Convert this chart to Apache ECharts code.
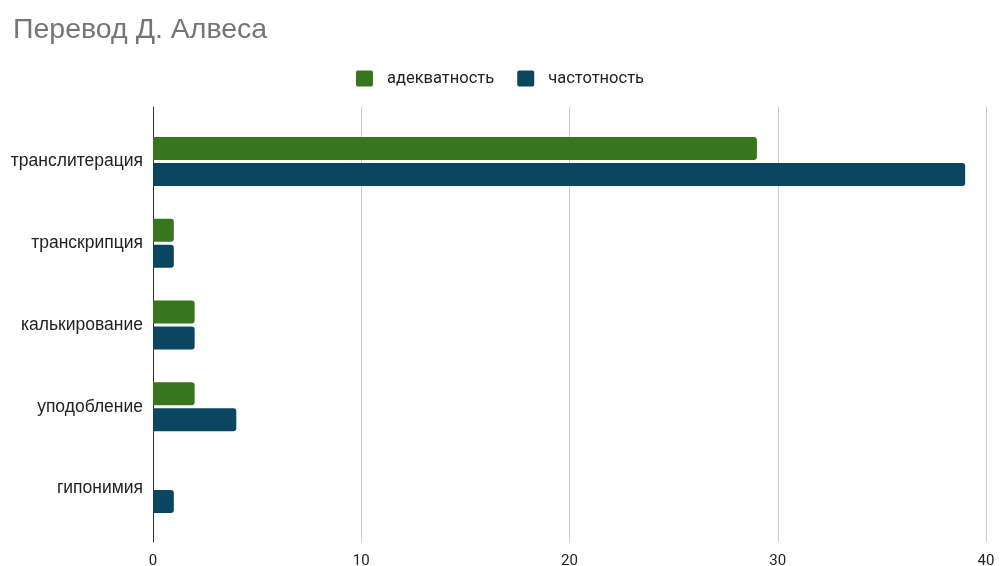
<!DOCTYPE html>
<html>
<head>
<meta charset="utf-8">
<script src="https://cdn.jsdelivr.net/npm/echarts@6/dist/echarts.min.js"></script>
<style>
  html, body { margin: 0; padding: 0; background: #fff; }
  #chart { width: 1000px; height: 566px; }
</style>
</head>
<body>
<div id="chart"></div>
<script>
// Translation methods and their counts
const categories = ['транслитерация', 'транскрипция', 'калькирование', 'уподобление', 'гипонимия'];
const adequacy = [29, 1, 2, 2, 0];
const frequency = [39, 1, 2, 4, 1];
const seriesNames = ['адекватность', 'частотность'];
const xTicks = { min: 0, max: 40, interval: 10 };

const FONT = '"Liberation Sans", Arial, sans-serif';
const FONT_R = 'Roboto, "Liberation Sans", Arial, sans-serif';
const GREEN = '#38761d';
const BLUE = '#0b4661';
// square legend swatch with slightly rounded corners
const SWATCH = 'path://M2,0H15A2,2,0,0,1,17,2V14A2,2,0,0,1,15,16H2A2,2,0,0,1,0,14V2A2,2,0,0,1,2,0Z';

const chart = echarts.init(document.getElementById('chart'), null, { renderer: 'canvas' });

chart.setOption({
  backgroundColor: '#ffffff',
  animation: false,
  textStyle: { fontFamily: FONT },
  title: {
    text: 'Перевод Д. Алвеса',
    left: 8,
    top: 11,
    textStyle: { fontFamily: FONT, fontSize: 28.5, fontWeight: 'normal', color: '#757575' }
  },
  legend: {
    top: 65,
    left: 'center',
    icon: SWATCH,
    itemWidth: 17,
    itemHeight: 16,
    itemGap: 23,
    textStyle: { fontFamily: FONT_R, fontSize: 16.5, color: '#222', padding: [0, 0, 0, 9] },
    data: seriesNames
  },
  grid: [
    // outer grid: gridlines, tick labels and the zero axis line
    { left: 153, right: 14, top: 107, bottom: 24, containLabel: false, outerBoundsMode: 'none' },
    // inner grid: bars and category labels
    { left: 153, right: 14, top: 120.6, bottom: 36.6, containLabel: false, outerBoundsMode: 'none' }
  ],
  xAxis: [
    {
      gridIndex: 0,
      type: 'value',
      min: xTicks.min, max: xTicks.max, interval: xTicks.interval,
      axisLine: { show: false },
      axisTick: { show: false },
      splitLine: { show: true, lineStyle: { color: '#cccccc', width: 1 } },
      axisLabel: { margin: 12, fontFamily: FONT_R, fontSize: 15, color: '#222' }
    },
    {
      gridIndex: 1,
      type: 'value',
      min: xTicks.min, max: xTicks.max,
      show: false
    }
  ],
  yAxis: [
    {
      gridIndex: 0,
      type: 'value',
      min: 0, max: 1,
      axisLine: { show: true, lineStyle: { color: '#333333', width: 1 } },
      axisTick: { show: false },
      axisLabel: { show: false },
      splitLine: { show: false }
    },
    {
      gridIndex: 1,
      type: 'category',
      inverse: true,
      data: categories,
      axisLine: { show: false },
      axisTick: { show: false },
      splitLine: { show: false },
      axisLabel: { margin: 10, fontFamily: FONT, fontSize: 17.5, color: '#222' }
    }
  ],
  series: [
    {
      name: seriesNames[0],
      type: 'bar',
      xAxisIndex: 1,
      yAxisIndex: 1,
      data: adequacy,
      barWidth: 23,
      barGap: '13%',
      z: 3,
      itemStyle: { color: GREEN, borderRadius: [0, 3, 3, 0] }
    },
    {
      name: seriesNames[1],
      type: 'bar',
      xAxisIndex: 1,
      yAxisIndex: 1,
      data: frequency,
      barWidth: 23,
      barGap: '13%',
      z: 3,
      itemStyle: { color: BLUE, borderRadius: [0, 3, 3, 0] }
    }
  ]
});
</script>
</body>
</html>
